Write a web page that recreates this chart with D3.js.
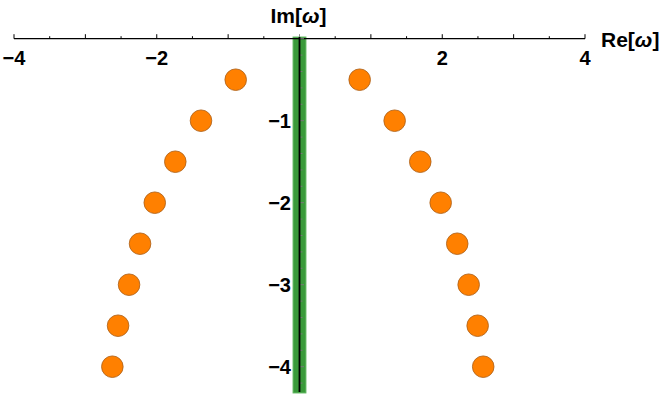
<!DOCTYPE html>
<html><head><meta charset="utf-8">
<script src="https://cdn.jsdelivr.net/npm/d3@7"></script>
<style>body{margin:0;background:#fff}svg{display:block}text{font-family:"Liberation Sans",Arial,sans-serif;font-weight:bold}</style>
</head><body>
<svg id="c" width="664" height="395"></svg>
<script>
const imValues = [-0.5, -1, -1.5, -2, -2.5, -3, -3.5, -4];
const reLeft = [-0.894, -1.380, -1.740, -2.028, -2.234, -2.388, -2.542, -2.622];
const reRight = [0.843, 1.333, 1.692, 1.978, 2.210, 2.370, 2.496, 2.574];
const xTickLabels = [-4, -2, 2, 4];
const yTickLabels = [-1, -2, -3, -4];
const bandHalfWidth = 0.09;

const svg = d3.select("#c");
const x = d3.scaleLinear().domain([-4, 4]).range([14, 585]);
const y = d3.scaleLinear().domain([0, -4]).range([38.7, 366.7]);
const yBottom = -4.32;

// green band
svg.append("rect")
  .attr("x", x(-bandHalfWidth)).attr("width", x(bandHalfWidth) - x(-bandHalfWidth))
  .attr("y", y(0.02)).attr("height", y(yBottom) - y(0.02))
  .attr("fill", "#3a9a3a").attr("stroke", "#5cb55c").attr("stroke-width", 1);

// x axis
const xAxisG = svg.append("g").attr("transform", `translate(0,${y(0)})`);
xAxisG.append("line").attr("x1", x(-4)).attr("x2", x(4)).attr("stroke", "#000").attr("stroke-width", 1.3);
const minorX = d3.range(-8, 9).map(d => d / 2);
xAxisG.selectAll("line.t").data(minorX).join("line").attr("class", "t")
  .attr("x1", d => x(d)).attr("x2", d => x(d))
  .attr("y1", 0).attr("y2", d => Number.isInteger(d) ? -4.5 : -2.5)
  .attr("stroke", d => d === 0 ? "#888" : "#000").attr("stroke-width", 1);
xAxisG.selectAll("text").data(xTickLabels).join("text")
  .attr("x", d => x(d)).attr("y", 26).attr("text-anchor", "middle")
  .attr("font-size", 20).text(d => d < 0 ? "\u2212" + Math.abs(d) : d);

// y axis ticks (gray over band)
const minorY = d3.range(0, -22, -1).map(d => d / 5).filter(d => d >= yBottom);
svg.selectAll("line.yt").data(minorY).join("line").attr("class", "yt")
  .attr("x1", x(0)).attr("x2", d => x(0) + (Number.isInteger(d) ? 4.5 : 3))
  .attr("y1", d => y(d)).attr("y2", d => y(d))
  .attr("stroke", "#777").attr("stroke-width", 1);
svg.append("line").attr("x1", x(0)).attr("x2", x(0)).attr("y1", y(0.02)).attr("y2", y(yBottom) - 1)
  .attr("stroke", "#000").attr("stroke-width", 1.8);
svg.selectAll("text.yl").data(yTickLabels).join("text").attr("class", "yl")
  .attr("x", 291).attr("y", d => y(d) + 7.3).attr("text-anchor", "end")
  .attr("font-size", 20).text(d => "\u2212" + Math.abs(d));

// axis labels
const im = svg.append("text").attr("x", 298.5).attr("y", 22.5).attr("text-anchor", "middle").attr("font-size", 21);
im.append("tspan").text("Im[");
im.append("tspan").attr("font-style", "italic").text("\u03C9");
im.append("tspan").text("]");
const re = svg.append("text").attr("x", 601).attr("y", 47).attr("text-anchor", "start").attr("font-size", 21);
re.append("tspan").text("Re[");
re.append("tspan").attr("font-style", "italic").text("\u03C9");
re.append("tspan").text("]");

// points
const pts = imValues.map((v, i) => ({re: reLeft[i], im: v}))
  .concat(imValues.map((v, i) => ({re: reRight[i], im: v})));
svg.selectAll("circle").data(pts).join("circle")
  .attr("cx", d => x(d.re)).attr("cy", d => y(d.im)).attr("r", 10.8)
  .attr("fill", "#ff8000").attr("stroke", "#a8601c").attr("stroke-width", 0.8);
</script>
</body></html>
